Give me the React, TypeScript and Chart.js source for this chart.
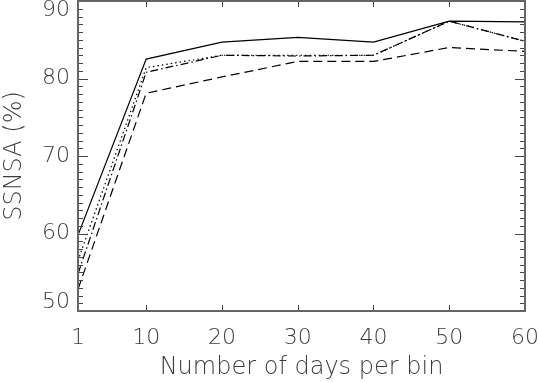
import React, { useEffect, useRef } from "react";
import { Chart, registerables } from "chart.js";

Chart.register(...registerables);

const xDays = [1, 10, 20, 30, 40, 50, 60];
const xTickValues = [1, 10, 20, 30, 40, 50, 60];
const yTickValues = [50, 60, 70, 80, 90];

const solidSeries = [59.8, 82.5, 84.7, 85.3, 84.7, 87.4, 87.3];
const dottedSeries = [56.5, 81.4, 83.0, 83.0, 83.0, 87.4, 84.8];
const dashDotSeries = [54.8, 80.8, 83.0, 82.9, 83.0, 87.4, 84.8];
const dashedSeries = [52.8, 78.1, 80.2, 82.2, 82.2, 84.0, 83.5];

const FONT = "'DejaVu Sans', sans-serif";
const TEXT = "#3c3c3c";

const zeroPad = (s: any) => {
  s.paddingLeft = 0;
  s.paddingRight = 0;
  s.paddingTop = 0;
  s.paddingBottom = 0;
};

const framePlugin = {
  id: "idlFrame",
  afterDatasetsDraw(chart: any) {
    const { ctx, chartArea, scales } = chart;
    const { left, right, top, bottom } = chartArea;
    const xs = scales.x;
    const ys = scales.y;
    ctx.save();
    ctx.setLineDash([]);
    ctx.strokeStyle = "#444";
    ctx.lineWidth = 1;
    for (let v = ys.min; v <= ys.max; v += 1) {
      const py = Math.round(ys.getPixelForValue(v)) + 0.5;
      const len = v % 10 === 0 ? 10 : 5;
      ctx.beginPath();
      ctx.moveTo(left, py);
      ctx.lineTo(left + len, py);
      ctx.moveTo(right, py);
      ctx.lineTo(right - len, py);
      ctx.stroke();
    }
    for (const v of xTickValues) {
      const px = Math.round(xs.getPixelForValue(v)) + 0.5;
      ctx.beginPath();
      ctx.moveTo(px, bottom);
      ctx.lineTo(px, bottom - 6);
      ctx.moveTo(px, top);
      ctx.lineTo(px, top + 6);
      ctx.stroke();
    }
    ctx.strokeStyle = "#666";
    ctx.lineWidth = 2;
    ctx.strokeRect(left, top, right - left, bottom - top);
    ctx.restore();
  },
};

export default function App() {
  const ref = useRef<HTMLCanvasElement | null>(null);
  useEffect(() => {
    if (!ref.current) return;
    const mk = (label: string, data: number[], dash: number[]) => ({
      label,
      data: xDays.map((x, i) => ({ x, y: data[i] })),
      borderColor: "#000",
      borderWidth: 1.2,
      borderDash: dash,
      pointRadius: 0,
      tension: 0,
      fill: false,
    });
    const chart = new Chart(ref.current, {
      type: "line",
      data: {
        datasets: [
          mk("solid", solidSeries, []),
          mk("dotted", dottedSeries, [1.5, 3]),
          mk("dash-dot", dashDotSeries, [8, 3, 1.5, 3]),
          mk("dashed", dashedSeries, [9, 5]),
        ],
      },
      options: {
        animation: false,
        responsive: false,
        devicePixelRatio: 1,
        layout: { padding: { top: 1, right: 13, left: 0, bottom: 0 }, autoPadding: false },
        plugins: { legend: { display: false }, tooltip: { enabled: false } },
        scales: {
          x: {
            type: "linear",
            min: 1,
            max: 60,
            afterBuildTicks: (s: any) => {
              s.ticks = xTickValues.map((v) => ({ value: v }));
            },
            afterFit: (s: any) => {
              s.height = 71;
              zeroPad(s);
            },
            grid: { display: false, drawTicks: false },
            border: { display: false },
            ticks: {
              autoSkip: false,
              maxRotation: 0,
              padding: 14,
              color: TEXT,
              font: { family: FONT, size: 22, weight: "200" as any },
            },
            title: {
              display: true,
              text: "Number of days per bin",
              color: TEXT,
              padding: { top: 0, bottom: 0 },
              font: { family: FONT, size: 24, weight: "200" as any },
            },
          },
          y: {
            min: 50,
            max: 90,
            afterBuildTicks: (s: any) => {
              s.ticks = yTickValues.map((v) => ({ value: v }));
            },
            afterFit: (s: any) => {
              s.width = 78;
              zeroPad(s);
            },
            grid: { display: false, drawTicks: false },
            border: { display: false },
            ticks: {
              autoSkip: false,
              padding: 8,
              color: TEXT,
              font: { family: FONT, size: 22, weight: "200" as any, lineHeight: 0.8 },
              callback: (v: any) => {
                const s = String(v);
                if (v === 90) return ["", s];
                if (v === 50) return [s, ""];
                return s;
              },
            },
            title: {
              display: true,
              text: "SSNSA (%)",
              color: TEXT,
              padding: { top: 0, bottom: 0 },
              font: { family: FONT, size: 24, weight: "200" as any },
            },
          },
        },
      },
      plugins: [framePlugin],
    });
    return () => chart.destroy();
  }, []);
  return (
    <div style={{ position: "absolute", left: 0, top: 0, width: 538, height: 382, background: "#fff" }}>
      <canvas ref={ref} width={538} height={382} style={{ display: "block" }} />
    </div>
  );
}
